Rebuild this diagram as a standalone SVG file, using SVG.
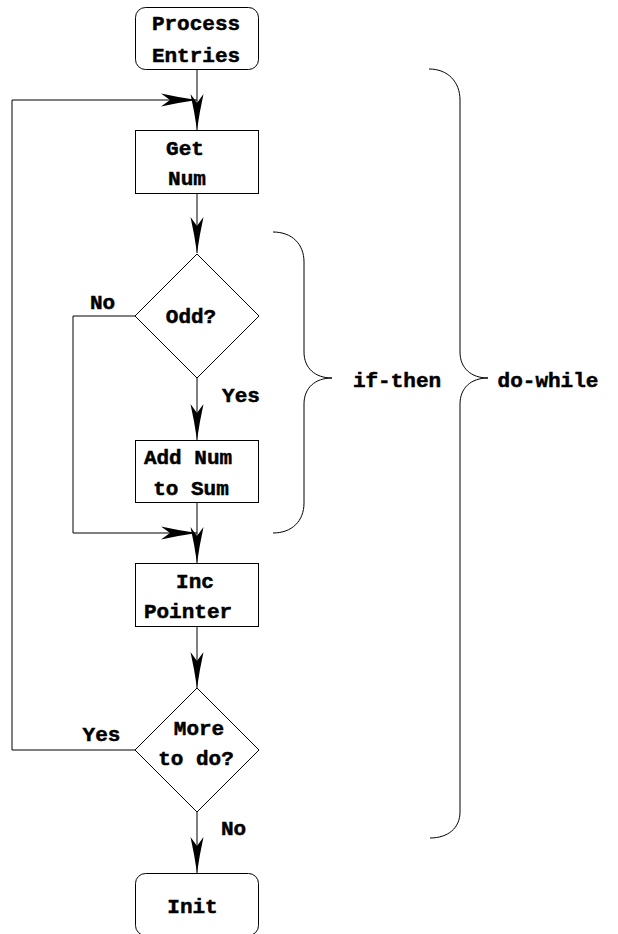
<svg xmlns="http://www.w3.org/2000/svg" width="618" height="934" viewBox="0 0 618 934">
<defs>
<marker id="ah" viewBox="-38 -8 40 16" refX="0" refY="0" markerWidth="40" markerHeight="16" orient="auto" markerUnits="userSpaceOnUse">
<path d="M0,0 Q-18,-2.5 -36,-6.5 L-27,0 L-36,6.5 Q-18,2.5 0,0 Z" fill="#000"/>
</marker>
</defs>
<style>
.box{fill:#fff;stroke:#000;stroke-width:1}
.t{font-family:"Liberation Mono","Courier New",monospace;font-weight:bold;font-size:21px;fill:#000;stroke:#000;stroke-width:0.5;text-anchor:middle}
.c{fill:none;stroke:#000;stroke-width:1}
.br{fill:none;stroke:#000;stroke-width:1}
</style>
<rect width="618" height="934" fill="#fff"/>
<g id="connectors">
<path class="c" d="M197,69 V130" marker-end="url(#ah)"/>
<path class="c" d="M135,750 H12 V100 H197" marker-end="url(#ah)"/>
<path class="c" d="M197,193 V253" marker-end="url(#ah)"/>
<path class="c" d="M135,316 H73 V533 H197" marker-end="url(#ah)"/>
<path class="c" d="M197,378 V440" marker-end="url(#ah)"/>
<path class="c" d="M197,502 V563" marker-end="url(#ah)"/>
<path class="c" d="M197,626 V688" marker-end="url(#ah)"/>
<path class="c" d="M197,812 V873" marker-end="url(#ah)"/>
</g>
<g id="process-entries">
<rect class="box" x="135.5" y="7.5" width="123" height="62" rx="10"/>
<text class="t" x="196" y="30">Process</text>
<text class="t" x="196" y="62">Entries</text>
</g>
<g id="get-num">
<rect class="box" x="135.5" y="130.5" width="123" height="63"/>
<text class="t" x="185" y="155">Get</text>
<text class="t" x="187" y="185">Num</text>
</g>
<g id="odd">
<path class="box" d="M197,254 L259,316 L197,378 L135,316 Z"/>
<text class="t" x="191" y="323">Odd?</text>
</g>
<g id="add-num">
<rect class="box" x="135.5" y="440.5" width="123" height="62"/>
<text class="t" x="188" y="464">Add Num</text>
<text class="t" x="191" y="495">to Sum</text>
</g>
<g id="inc-pointer">
<rect class="box" x="135.5" y="563.5" width="123" height="63"/>
<text class="t" x="195" y="588">Inc</text>
<text class="t" x="188" y="618">Pointer</text>
</g>
<g id="more">
<path class="box" d="M197,688 L259,750 L197,812 L135,750 Z"/>
<text class="t" x="199" y="735">More</text>
<text class="t" x="196" y="765">to do?</text>
</g>
<g id="init">
<rect class="box" x="135.5" y="873.5" width="123" height="62" rx="10"/>
<text class="t" x="192.5" y="913">Init</text>
</g>
<g id="labels">
<text class="t" x="102.5" y="309">No</text>
<text class="t" x="241" y="402">Yes</text>
<text class="t" x="101.5" y="741">Yes</text>
<text class="t" x="233.5" y="835">No</text>
</g>
<g id="if-then">
<path class="br" d="M273,232 C292,232 304,244 304,262 L304,352 C304,368 315,378 332,378 C315,378 304,388 304,404 L304,503 C304,521 292,533 273,533"/>
<text class="t" x="397" y="387">if-then</text>
</g>
<g id="do-while">
<path class="br" d="M429,69 C448,69 460,82 460,100 L460,352 C460,368 471,378 488,378 C471,378 460,388 460,404 L460,812 C460,828 448,838 430,838"/>
<text class="t" x="548" y="387">do-while</text>
</g>
</svg>
